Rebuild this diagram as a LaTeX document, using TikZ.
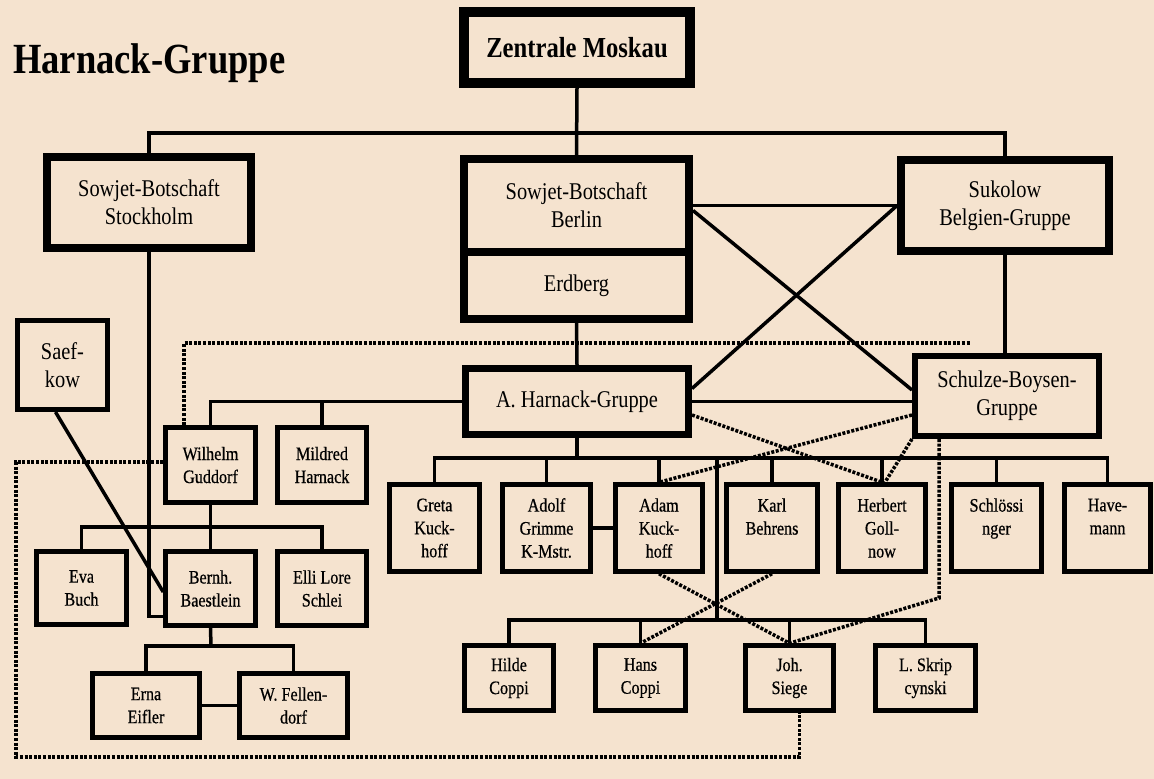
\documentclass[tikz,border=0pt]{standalone}
\usepackage{fontspec}
\setmainfont{Liberation Serif}[FakeStretch=0.85]
\newfontfamily\boxfont{Liberation Serif}[FakeStretch=0.85, FakeBold=0.6]
\usetikzlibrary{calc}
\definecolor{bg}{RGB}{245,227,207}
\begin{document}
\begin{tikzpicture}[x=1pt,y=-1pt,
 bx/.style={draw=black, rectangle, inner sep=0pt, align=center, line width=4.5pt, font=\boxfont\fontsize{19}{23}\selectfont},
 big/.style={bx, font=\fontsize{24}{28}\selectfont, line width=8pt},
 ln/.style={line width=3.5pt},
 dot/.style={line width=3.5pt, dash pattern=on 3pt off 1.6pt},
]
\fill[bg] (0,0) rectangle (1154,779);
\useasboundingbox (0,0) rectangle (1154,779);

\node[anchor=base west, inner sep=0pt, font=\bfseries\fontsize{43}{48}\selectfont] (title) at (13,73) {Harnack-Gruppe};

\node[bx, line width=10pt, minimum width=226pt, minimum height=71pt, font=\bfseries\fontsize{29}{34}\selectfont] (zm) at (577,47.5) {Zentrale Moskau};
\node[big, minimum width=204pt, minimum height=91pt] (sth) at (149,202.5) {Sowjet-Botschaft\\Stockholm};
\node[big, minimum width=225pt, minimum height=93pt] (ber) at (576.5,205.5) {Sowjet-Botschaft\\Berlin};
\node[big, minimum width=225pt, minimum height=67pt] (erd) at (576.5,285.5) {Erdberg};
\node[big, minimum width=208pt, minimum height=91pt] (suk) at (1005,205.5) {Sukolow\\Belgien-Gruppe};
\node[big, line width=7pt, minimum width=223pt, minimum height=66pt] (ahg) at (577,401.5) {A. Harnack-Gruppe};
\node[big, line width=6pt, minimum width=184pt, minimum height=80pt] (sbg) at (1007,396) {Schulze-Boysen-\\Gruppe};
\node[big, line width=5pt, minimum width=90pt, minimum height=89pt] (saef) at (62.5,365) {Saef-\\kow};

\node[bx, minimum width=90pt, minimum height=75pt] (wg) at (210.5,465) {Wilhelm\\Guddorf};
\node[bx, minimum width=89pt, minimum height=75pt] (mh) at (322,465) {Mildred\\Harnack};
\node[bx, minimum width=90pt, minimum height=73pt] (eva) at (81.5,588) {Eva\\Buch};
\node[bx, minimum width=90pt, minimum height=74pt] (bb) at (210.5,588.5) {Bernh.\\Baestlein};
\node[bx, minimum width=89pt, minimum height=74pt] (els) at (322,588.5) {Elli Lore\\Schlei};
\node[bx, minimum width=107pt, minimum height=64pt] (erna) at (146,705.5) {Erna\\Eifler};
\node[bx, minimum width=108pt, minimum height=64pt] (wf) at (293.5,705.5) {W. Fellen-\\dorf};

\node[bx, minimum width=90pt, minimum height=87pt] (greta) at (434.5,528) {Greta\\Kuck-\\hoff};
\node[bx, minimum width=88pt, minimum height=87pt] (adolf) at (546.5,528) {Adolf\\Grimme\\K-Mstr.};
\node[bx, minimum width=87pt, minimum height=87pt] (adam) at (659,528) {Adam\\Kuck-\\hoff};
\node[bx, minimum width=91pt, minimum height=87pt] (karl) at (772,528) {Karl\\Behrens\\~};
\node[bx, minimum width=87pt, minimum height=87pt] (herbert) at (882,528) {Herbert\\Goll-\\now};
\node[bx, minimum width=90pt, minimum height=87pt] (schl) at (996.5,528) {Schlössi\\nger\\~};
\node[bx, minimum width=86pt, minimum height=87pt] (have) at (1107.5,528) {Have-\\mann\\~};

\node[bx, minimum width=89pt, minimum height=65pt] (hilde) at (509,678) {Hilde\\Coppi};
\node[bx, minimum width=90pt, minimum height=65pt] (hans) at (640.5,678) {Hans\\Coppi};
\node[bx, minimum width=88pt, minimum height=65pt] (siege) at (789.5,678) {Joh.\\Siege};
\node[bx, minimum width=100pt, minimum height=65pt] (skrip) at (925.5,678) {L. Skrip\\cynski};

% solid connectors
\coordinate (b1) at (577,133);
\draw[ln] (zm.south) -- (ber.north);
\draw[ln] (sth.north) |- (b1) -| (suk.north);
\draw[ln] (erd.south) -- (ahg.north);
\draw[ln] (ber.east) -- (suk.west);
\draw[ln] (suk.west) -- ([yshift=13pt]ahg.east);
\draw[ln] ([yshift=-5pt]ber.east) -- ([yshift=6pt]sbg.west);
\draw[ln] (ahg.west) -| (wg.north);
\draw[ln] (mh.north) -- (mh.north |- ahg.west);
\draw[ln] (ahg.east) -- (ahg.east -| sbg.west);
\draw[ln] (suk.south) -- (suk.south |- sbg.north);
\coordinate (b2) at (577,458);
\draw[ln] (ahg.south) -- (b2);
\draw[ln] (greta.north) |- (b2) -| (have.north);
\foreach \n in {adolf,adam,karl,herbert,schl} \draw[ln] (\n.north) -- (\n.north |- b2);
\draw[ln] (adolf.east) -- (adam.west);
\coordinate (b3) at (717,620);
\draw[ln] (b3 |- b2) -- (b3);
\draw[ln] (hilde.north) |- (b3) -| (skrip.north);
\foreach \n in {hans,siege} \draw[ln] (\n.north) -- (\n.north |- b3);
\coordinate (b4) at (211,527);
\draw[ln] (wg.south) -- (bb.north);
\draw[ln] (eva.north) |- (b4) -| (els.north);
\coordinate (b5) at (211,646);
\draw[ln] (bb.south) -- (b5);
\draw[ln] (erna.north) |- (b5) -| (wf.north);
\draw[ln] (erna.east) -- (wf.west);
\draw[ln] (sth.south) |- ([yshift=-28pt]bb.west);
\draw[ln] ([xshift=-7pt]saef.south) -- ([yshift=-3.5pt]bb.west);

% dotted connectors
\coordinate (e1) at (970,343);
\draw[dot] ([xshift=-26.5pt]wg.north) |- (e1);
\coordinate (e2) at (16,757);
\draw[dot] ([yshift=3pt]wg.west) -| (e2) -| ([xshift=10pt]siege.south);
\draw[dot] ([yshift=-13.5pt]ahg.east) -- (herbert.north);
\draw[dot] ([yshift=-19pt]sbg.west) -- (adam.north);
\draw[dot] (sbg.south west) -- ([xshift=3pt]herbert.north);
\coordinate (e3) at (939,598);
\draw[dot] (sbg.south -| e3) -- (e3) -- (siege.north);
\draw[dot] (adam.south) -- (siege.north);
\draw[dot] (karl.south) -- (hans.north);
\end{tikzpicture}
\end{document}
